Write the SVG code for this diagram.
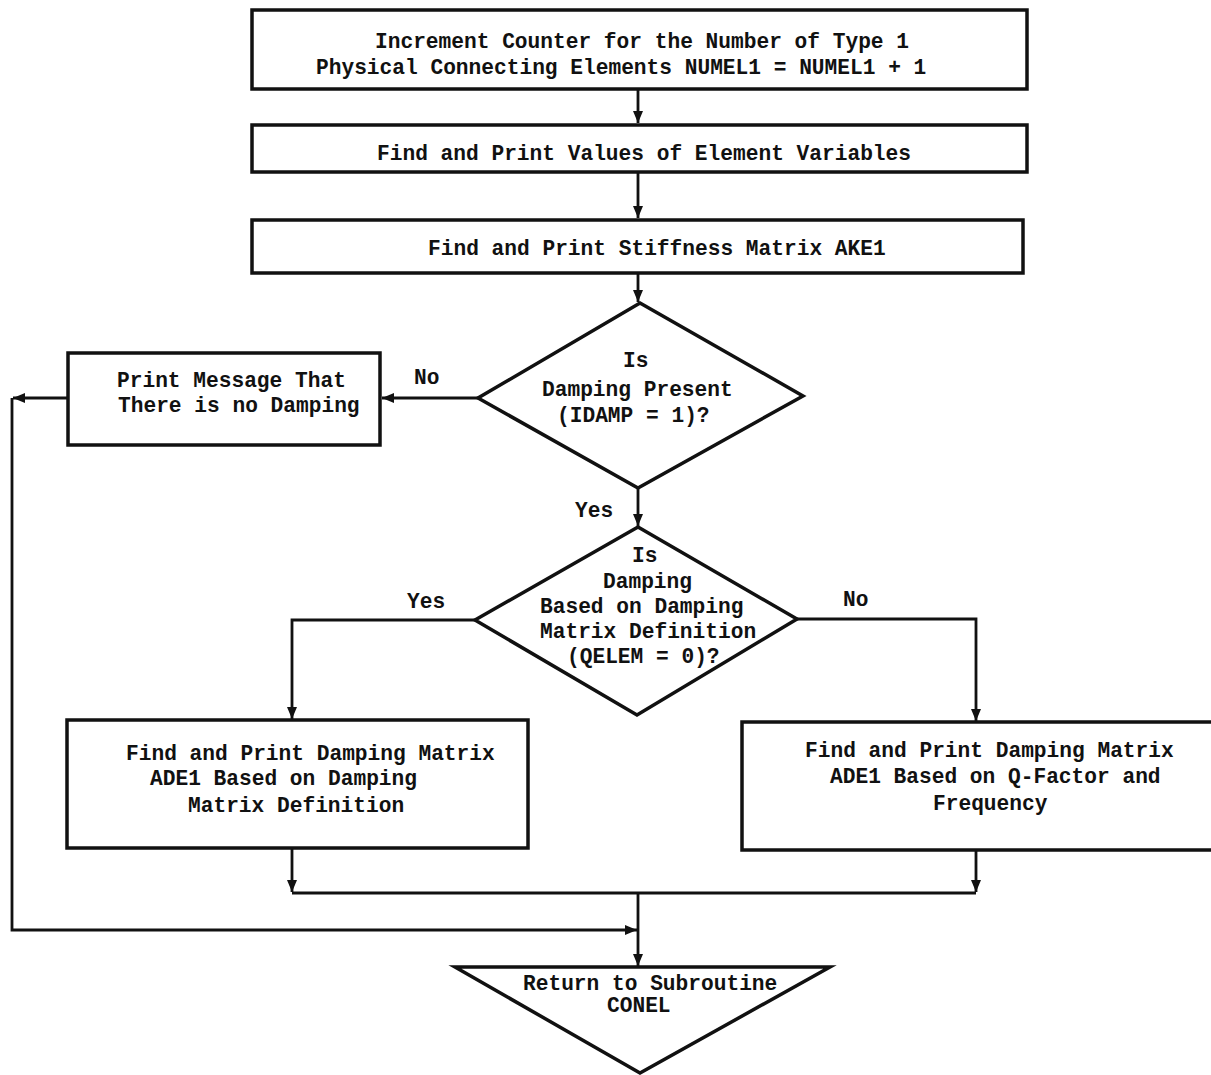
<svg xmlns="http://www.w3.org/2000/svg" width="1211" height="1075" viewBox="0 0 1211 1075">
<style>
.n{fill:#fff;stroke:#111;stroke-width:3.5;stroke-linejoin:miter}
.c{fill:none;stroke:#111;stroke-width:2.8}
text{font-family:"Liberation Mono","DejaVu Sans Mono",monospace;font-weight:bold;font-size:21.2px;fill:#111}
</style>
<defs>
<marker id="ah" markerUnits="userSpaceOnUse" markerWidth="14" markerHeight="12" refX="12" refY="5" orient="auto">
<path d="M0,0 L12,5 L0,10 Z" fill="#111"/>
</marker>
</defs>
<rect width="1211" height="1075" fill="#fff"/>
<g id="connectors">
<path class="c" d="M638,89 L638,123" marker-end="url(#ah)"/>
<path class="c" d="M638,172 L638,218" marker-end="url(#ah)"/>
<path class="c" d="M638,273 L638,302" marker-end="url(#ah)"/>
<path class="c" d="M478,398 L382,398" marker-end="url(#ah)"/>
<path class="c" d="M68,398 L13,398" marker-end="url(#ah)"/>
<path class="c" d="M12,398 L12,930 L637,930" marker-end="url(#ah)"/>
<path class="c" d="M638,488 L638,526" marker-end="url(#ah)"/>
<path class="c" d="M475,620 L292,620 L292,719" marker-end="url(#ah)"/>
<path class="c" d="M797,619 L976,619 L976,721" marker-end="url(#ah)"/>
<path class="c" d="M292,848 L292,892" marker-end="url(#ah)"/>
<path class="c" d="M976,850 L976,892" marker-end="url(#ah)"/>
<path class="c" d="M292,893 L976,893"/>
<path class="c" d="M638,893 L638,966" marker-end="url(#ah)"/>
<text x="414" y="384">No</text>
<text x="575" y="517">Yes</text>
<text x="407" y="608">Yes</text>
<text x="843" y="606">No</text>
</g>
<g id="n1">
<rect class="n" x="252" y="10" width="775" height="79"/>
<text x="375" y="48">Increment Counter for the Number of Type 1</text>
<text x="316" y="74">Physical Connecting Elements NUMEL1 = NUMEL1 + 1</text>
</g>
<g id="n2">
<rect class="n" x="252" y="125" width="775" height="47"/>
<text x="377" y="160">Find and Print Values of Element Variables</text>
</g>
<g id="n3">
<rect class="n" x="252" y="220" width="771" height="53"/>
<text x="428" y="255">Find and Print Stiffness Matrix AKE1</text>
</g>
<g id="d1">
<polygon class="n" points="640,303 803,396 638,488 478,398"/>
<text x="623" y="367">Is</text>
<text x="542" y="396">Damping Present</text>
<text x="557" y="422">(IDAMP = 1)?</text>
</g>
<g id="n4">
<rect class="n" x="68" y="353" width="312" height="92"/>
<text x="117" y="387">Print Message That</text>
<text x="118" y="412">There is no Damping</text>
</g>
<g id="d2">
<polygon class="n" points="638,527 797,619 637,715 475,620"/>
<text x="632" y="562">Is</text>
<text x="603" y="588">Damping</text>
<text x="540" y="613">Based on Damping</text>
<text x="540" y="638">Matrix Definition</text>
<text x="567" y="663">(QELEM = 0)?</text>
</g>
<g id="n5">
<rect class="n" x="67" y="720" width="461" height="128"/>
<text x="126" y="760">Find and Print Damping Matrix</text>
<text x="150" y="785">ADE1 Based on Damping</text>
<text x="188" y="812">Matrix Definition</text>
</g>
<g id="n6">
<rect class="n" x="742" y="722" width="490" height="128"/>
<text x="805" y="757">Find and Print Damping Matrix</text>
<text x="830" y="783">ADE1 Based on Q-Factor and</text>
<text x="933" y="810">Frequency</text>
</g>
<g id="n7">
<polygon class="n" points="455,967 830,967 640,1073"/>
<text x="523" y="990">Return to Subroutine</text>
<text x="607" y="1012">CONEL</text>
</g>
</svg>
